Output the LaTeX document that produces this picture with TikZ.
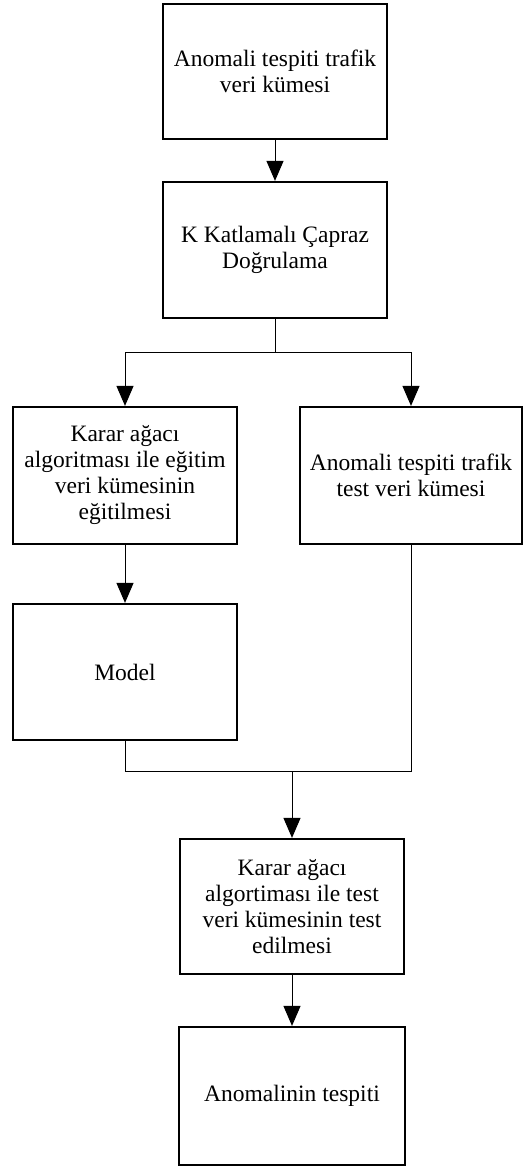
\documentclass[tikz,border=0pt]{standalone}
\usepackage{fontspec}
\setmainfont{Liberation Serif}
\usetikzlibrary{arrows.meta}
\begin{document}
\begin{tikzpicture}[x=1pt,y=-1pt,
  box/.style={draw, line width=2.2pt, align=center, inner sep=0pt,
    font=\fontsize{23.5}{26}\selectfont},
  conn/.style={line width=1pt},
  arr/.style={conn, -{Triangle[length=20pt,width=17pt]}}]
\useasboundingbox[fill=white] (0,0) rectangle (531,1166);
\node[box, minimum width=224pt, minimum height=135pt] (b1) at (275,71.5) {Anomali tespiti trafik\\veri kümesi};
\node[box, minimum width=224pt, minimum height=136pt] (b2) at (275,250) {K Katlamalı Çapraz\\Doğrulama};
\node[box, minimum width=224pt, minimum height=137pt] (b3) at (125,475.5) {Karar ağacı\\algoritması ile eğitim\\veri kümesinin\\eğitilmesi};
\node[box, minimum width=222pt, minimum height=137pt] (b4) at (411,475.5) {Anomali tespiti trafik\\test veri kümesi};
\node[box, minimum width=224pt, minimum height=136pt] (b5) at (125,672) {Model};
\node[box, minimum width=224pt, minimum height=135pt] (b6) at (292,906.5) {Karar ağacı\\algortiması ile test\\veri kümesinin test\\edilmesi};
\node[box, minimum width=226pt, minimum height=138pt] (b7) at (292,1096) {Anomalinin tespiti};
\coordinate (j1) at (275,352);
\coordinate (j2) at (292,771);
\draw[arr] (b1) -- (b2);
\draw[conn] (b2.south) -- (j1);
\draw[arr] (j1) -| (b3.north);
\draw[arr] (j1) -| (b4.north);
\draw[arr] (b3) -- (b5);
\draw[conn] (b5.south) |- (j2);
\draw[conn] (b4.south) |- (j2);
\draw[arr] (j2) -- (b6);
\draw[arr] (b6) -- (b7);
\end{tikzpicture}
\end{document}
